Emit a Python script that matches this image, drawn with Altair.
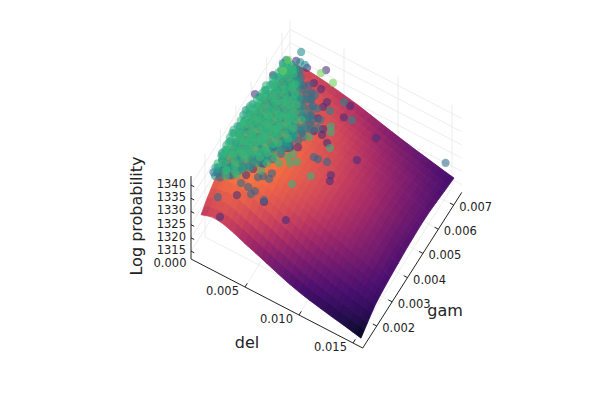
import altair as alt
import pandas as pd

# surface (del and gam in units of 0.001)
del_grid = [0.93,2,3,4,5,6,7,8,9,10,11,12,13,14,15,15.74]
gam_grid = [1.09,1.5,2,2.5,3,3.5,4,4.5,5,5.5,6,6.5,7.13]
z_rows = [
 [1330.7,1332.2,1331.6,1330.2,1328.4,1326.9,1325.2,1323.6,1322.0,1320.7,1319.6,1318.7,1317.8,1317.0,1316.1,1315.4],
 [1333.5,1335.0,1334.9,1333.4,1331.7,1330.1,1328.5,1326.8,1325.1,1323.6,1322.3,1321.2,1320.2,1319.3,1318.2,1317.3],
 [1336.0,1337.6,1337.9,1336.8,1335.2,1333.5,1331.8,1330.0,1328.1,1326.4,1324.9,1323.6,1322.4,1321.3,1320.3,1319.5],
 [1337.8,1339.2,1339.8,1338.7,1337.0,1335.4,1333.7,1332.0,1330.3,1328.7,1327.1,1325.8,1324.4,1323.2,1321.8,1320.4],
 [1338.8,1340.0,1340.5,1339.5,1338.0,1336.4,1334.8,1333.3,1331.8,1330.3,1328.9,1327.5,1326.1,1324.8,1322.6,1321.1],
 [1339.0,1340.0,1340.4,1339.4,1338.0,1336.6,1335.2,1333.8,1332.4,1330.9,1329.5,1328.1,1326.7,1325.1,1323.1,1321.6],
 [1338.6,1339.6,1339.8,1339.0,1337.7,1336.4,1335.1,1333.8,1332.5,1331.2,1329.9,1328.6,1327.1,1325.2,1323.4,1322.1],
 [1338.0,1338.9,1339.0,1338.3,1337.1,1335.9,1334.7,1333.5,1332.3,1331.1,1329.9,1328.7,1327.2,1325.6,1323.8,1322.4],
 [1337.0,1337.9,1338.0,1337.3,1336.3,1335.2,1334.1,1332.9,1331.8,1330.6,1329.4,1328.2,1326.9,1325.4,1323.8,1322.6],
 [1336.0,1336.8,1336.9,1336.3,1335.4,1334.4,1333.4,1332.3,1331.2,1330.0,1328.8,1327.6,1326.4,1325.0,1323.6,1322.5],
 [1335.0,1335.6,1335.7,1335.1,1334.3,1333.4,1332.4,1331.4,1330.3,1329.1,1327.9,1326.8,1325.6,1324.4,1323.1,1322.0],
 [1333.8,1334.3,1334.3,1333.8,1333.0,1332.2,1331.2,1330.1,1329.0,1327.9,1326.8,1325.7,1324.7,1323.6,1322.4,1321.4],
 [1332.5,1332.8,1332.4,1331.8,1331.0,1330.2,1329.3,1328.2,1327.1,1326.0,1325.0,1324.0,1323.1,1322.2,1321.3,1320.7],
]

# surface colours, by log probability
colour_z = [1315.4,1318,1321,1324,1327,1330,1333,1336,1339,1341]
colour_hex = ["#08051e","#280c50","#460f6e","#691970","#8c236c","#b23264","#d24a58","#e65f4b","#f9783a","#ff8538"]

# scatter points
purple_del = [1.82,2.89,4.31,0.84,0.42,5.79,5.73,4.8,4.04,7.57,7.64,10.8,5.87,6.17,6.71,6.9,7.61,10.44,9.3,9.49,5.77,5.25,4.97,4.03,3.39,3.64,3.61,4.08,5.83]
purple_gam = [6.64,6.6,6.84,5.83,4.95,5.86,5.65,6.17,6.24,6.11,5.66,5.53,5.21,4.75,4.96,4.76,4.59,4.54,3.65,3.45,3.99,3.83,3.77,3.59,2.29,1.52,2.59,2.9,1.74]
purple_low_del = [2.26,6.99]
purple_low_gam = [1.39,2.35]
purple_low_logp = [1330,1330]
blue_del = [7.32,7.69,8.45,5.16,5.11,3.39,4.06,4.72,4.58,5.74,2.41,1.05,1.0,4.31,4.61,
            4.6,4.3,3.8,3.4,5.0,5.3,5.6,5.4,5.5,5.2,4.9,4.5,3.9,3.2,2.7,2.2,1.7,1.3,1.0,1.6,2.0,2.4]
blue_gam = [3.94,3.94,4.0,2.54,2.76,1.96,1.95,1.93,1.78,1.8,1.15,2.37,6.36,2.42,2.53,
            5.7,5.9,6.1,6.0,5.5,5.2,4.9,4.5,4.2,3.9,3.5,3.2,2.9,2.6,2.3,2.0,1.8,1.9,1.85,2.15,2.25,2.05]
far_del = [15.1]
far_gam = [7.03]
far_logp = [1326]
dark_teal_del = [4.5,4.9,5.2,5.6,6.1,5.05,5.5,5.15,4.8,5.7,4.2,4.64,4.0,3.6,5.4,4.7,5.9,5.0,4.55,4.85,3.5,3.9,2.9,3.3,6.3,4.3,3.9,3.2,2.9,2.5]
dark_teal_gam = [5.65,5.4,5.15,5.05,5.2,4.95,4.7,4.55,4.3,4.4,5.6,5.89,5.8,5.85,5.5,5.05,4.75,4.1,3.75,3.95,3.0,3.15,2.5,2.8,4.9,5.35,5.55,5.95,6.2,6.4]
teal_del = [1.77,2.61,2.14,1.07,6.97,8.33,6.39,1.27,1.08,0.74,
 1.1,1.6,2.0,0.9,1.4,1.9,2.4,0.8,1.2,1.6,
 2.1,2.6,3.1,0.7,1.1,1.5,1.9,2.4,2.8,3.3,
 3.8,4.1,0.8,1.2,1.7,2.1,2.6,3.0,3.5,3.9,
 4.4,4.8,0.9,1.3,1.8,2.2,2.7,3.1,3.6,4.0,
 4.5,5.0,0.5,0.9,1.2,1.7,2.1,2.5,3.0,3.4,
 3.9,4.4,4.9,5.3,0.7,1.1,1.5,2.0,2.4,2.9,
 3.3,3.7,4.2,5.0,0.9,1.4,1.9,2.3,2.8,3.2,
 3.7,4.2,4.6,1.0,1.5,2.0,2.5,3.0,3.5,4.1,
 1.2,1.7,2.2,2.7,3.1,3.5,1.3,1.8,2.2,2.6,
 1.3,1.8,2.3,1.7,2.6,3.0,2.2,1.2,0.9,1.6]
teal_gam = [7.0,6.66,6.67,6.51,6.13,5.7,5.63,1.76,2.08,2.59,
 2.35,2.2,2.3,2.75,2.8,2.7,2.65,3.1,3.15,3.05,
 3.1,3.05,2.95,3.4,3.45,3.35,3.4,3.4,3.45,3.35,
 3.25,3.55,3.7,3.65,3.7,3.65,3.7,3.65,3.7,3.6,
 3.65,3.95,4.0,3.95,4.05,4.0,4.05,4.0,4.05,4.0,
 3.95,4.3,4.3,4.25,4.3,4.35,4.3,4.35,4.3,4.35,
 4.3,4.35,4.6,4.7,4.6,4.55,4.6,4.65,4.6,4.65,
 4.6,4.65,4.6,5.0,4.95,4.9,4.95,4.9,4.95,4.9,
 4.95,4.9,5.2,5.25,5.2,5.25,5.2,5.25,5.2,5.3,
 5.55,5.5,5.55,5.5,5.55,5.5,5.85,5.8,5.85,5.8,
 6.1,6.15,6.1,6.45,6.2,6.0,6.4,6.5,2.5,2.0]
mid_del = [1.13,1.57,2.28,0.97,1.83,2.66,1.42,2.07,2.83,3.02,
 0.74,1.27,1.71,2.17,2.52,3.13,3.44,0.58,1.06,1.53,2.03,2.47,2.91,3.37,3.82,4.13,
 0.63,0.88,1.36,1.77,2.24,2.64,3.09,3.56,4.02,4.43,0.54,1.02,1.48,1.93,2.37,2.86,3.27,3.73,4.18,4.62,4.94,
 0.67,1.17,1.63,2.12,2.58,3.04,3.46,3.93,4.36,4.83,0.86,1.32,1.84,2.29,2.74,3.16,3.62,4.07,4.53,
 0.93,1.26,1.72,2.14,2.61,3.07,3.48,3.96,4.34,1.08,1.53,2.04,2.47,2.93,3.36,3.71,
 0.98,1.41,1.87,2.26,2.73,3.12,1.17,1.52,1.94,2.38,2.83,1.39,1.76,2.12,
 1.22,1.74,2.36,0.93,2.85,3.28,3.61,4.03,4.37,4.74,5.02]
mid_gam = [2.47,2.33,2.61,2.68,2.52,2.43,2.94,2.79,2.71,2.88,
 3.03,3.11,2.97,3.18,2.99,3.07,3.13,3.37,3.52,3.27,3.46,3.24,3.49,3.31,3.43,3.19,
 3.67,3.93,3.72,3.97,3.63,3.86,3.74,3.98,3.71,3.89,4.11,4.23,4.06,4.29,4.13,4.02,4.26,4.09,4.31,4.07,4.21,
 4.41,4.62,4.38,4.71,4.43,4.66,4.39,4.73,4.49,4.37,4.92,4.83,4.97,4.79,4.87,4.76,4.93,4.83,4.68,
 5.23,5.12,5.36,5.07,5.31,5.14,5.41,5.18,5.09,5.48,5.58,5.46,5.61,5.47,5.63,5.52,
 5.81,5.77,5.93,5.72,5.88,5.76,6.13,6.03,6.21,6.07,6.02,6.33,6.28,6.36,
 2.07,2.19,2.28,2.03,2.41,2.57,2.81,3.02,3.36,3.61,3.83]
green_del = [7.13,7.39,8.03,6.08,7.95,6.99,5.15,5.92,6.36,5.73,5.51,4.32,3.56,3.87,4.65,4.25,0.82,1.85,2.48,2.04,2.76,
 0.9,1.3,1.8,2.2,0.8,1.2,1.6,2.1,2.5,0.7,
 1.1,1.5,1.9,2.4,2.9,0.6,1.0,1.4,1.8,2.3,
 2.7,3.2,3.6,0.5,0.9,1.3,1.7,2.1,2.6,3.0,
 3.5,3.9,0.6,1.0,1.4,1.9,2.3,2.8,3.2,3.7,
 4.2,0.7,1.1,1.6,2.0,2.5,2.9,3.4,3.8,4.3,
 4.7,0.6,1.0,1.4,1.9,2.3,2.8,3.2,3.7,4.1,
 4.6,0.8,1.2,1.7,2.1,2.6,3.0,3.5,3.9,4.4,
 4.8,0.9,1.3,1.8,2.2,2.7,3.1,3.6,4.0,0.8,
 1.2,1.6,2.0,2.5,2.9,3.3,3.8,1.0,1.4,1.9,
 2.3,2.8,3.2,1.1,1.5,2.0,2.4,1.1,1.6,2.0,
 1.0,1.5,2.0,2.5,1.2,1.7,2.2,2.7,3.2,0.9,
 1.5,2.0,2.5,3.0,3.5,1.2,1.8,2.4,2.9,3.4,
 3.9,1.0,1.6,2.2,2.7,3.3,3.8,1.1,1.7,2.3,
 2.9,3.4,1.4,2.1,2.7,1.6,2.2,1.3,1.8,2.8]
green_gam = [5.17,4.99,4.48,4.48,3.3,2.75,3.19,3.36,3.52,3.69,3.52,2.99,3.07,3.31,3.28,2.66,2.73,2.14,2.2,1.93,2.14,
 2.2,2.3,2.1,2.4,2.5,2.6,2.7,2.5,2.8,2.9,
 3.0,2.9,3.0,2.9,3.1,3.2,3.3,3.2,3.3,3.2,
 3.3,3.2,3.4,3.5,3.6,3.5,3.6,3.5,3.6,3.6,
 3.5,3.7,3.9,3.8,3.9,3.8,3.9,3.8,3.9,3.9,
 3.8,4.2,4.1,4.2,4.1,4.2,4.1,4.2,4.1,4.2,
 4.1,4.5,4.4,4.5,4.4,4.5,4.4,4.5,4.4,4.5,
 4.5,4.8,4.7,4.8,4.7,4.8,4.7,4.8,4.7,4.8,
 4.9,5.1,5.0,5.1,5.0,5.1,5.0,5.1,5.0,5.4,
 5.3,5.4,5.3,5.4,5.3,5.4,5.3,5.7,5.6,5.7,
 5.6,5.7,5.6,6.0,5.9,6.0,5.9,6.3,6.2,6.3,
 2.8,2.7,2.9,3.0,3.4,3.3,3.4,3.5,3.7,3.9,
 4.0,3.7,4.0,3.8,4.3,4.3,4.2,4.3,4.2,4.1,
 4.6,4.6,4.6,4.5,4.6,4.7,4.9,5.0,5.2,5.1,
 5.2,5.2,5.5,5.5,5.8,6.1,6.2,6.4,6.4,5.9]
light_del = [4.09,5.36,1.35,1.21]
light_gam = [6.66,6.55,6.12,6.54]
cloud_logp = 1340

level_purple, level_blue, level_dark_teal, level_teal, level_mid, level_green, level_light = 0.13, 0.33, 0.4, 0.47, 0.55, 0.66, 0.78

# axis ticks
del_ticks = [5, 10, 15]
gam_ticks = [2, 3, 4, 5, 6, 7]
z_ticks = [1315, 1320, 1325, 1330, 1335, 1340]
del_lo, del_hi = 0.0, 15.9
gam_lo, gam_hi = 1.09, 7.52
z_lo, z_hi = 1312.0, 1343.4


def px(d, g, z):
    return (191 + 10.8 * d + 15.4 * (g - 1.09),
            259 + 5.6 * d - 24.2 * (g - 1.09) - 2.64 * (z - 1312))


nx, ny = len(del_grid), len(gam_grid)
vertex = [[px(del_grid[i], gam_grid[j], z_rows[j][i]) for i in range(nx)] for j in range(ny)]


def centre(i0, i1, j0, j1):
    pts = [vertex[j][i] for i in (i0, i1) for j in (j0, j1)]
    return [sum(p[0] for p in pts) / 4 - 8, sum(p[1] for p in pts) / 4 - 8]


def polygon(ring, z):
    return {"type": "Feature", "properties": {"z": z},
            "geometry": {"type": "Polygon", "coordinates": [ring + [ring[0]]]}}


# one quad between four grid values, seen from the back of the box forward
cells = []
for j in range(ny - 2, -1, -1):
    for i in range(nx - 1):
        ring = [[vertex[b][a][0] - 8, vertex[b][a][1] - 8]
                for a, b in [(i, j), (i + 1, j), (i + 1, j + 1), (i, j + 1)]]
        z = (z_rows[j][i] + z_rows[j][i + 1] + z_rows[j + 1][i] + z_rows[j + 1][i + 1]) / 4
        cells.append(polygon(ring, z))

# a second, half-transparent mesh around each grid value softens the facets
soft = []
for j in range(ny - 1, -1, -1):
    for i in range(nx):
        il, ir = max(i - 1, 0), min(i + 1, nx - 1)
        jl, jr = max(j - 1, 0), min(j + 1, ny - 1)
        ring = [centre(il, i, jl, j), centre(i, ir, jl, j), centre(i, ir, j, jr), centre(il, i, j, jr)]
        soft.append(polygon(ring, z_rows[j][i]))

# points
rows = []
def add(ds, gs, zs, level):
    for d, g, z in zip(ds, gs, zs):
        x, y = px(d, g, z)
        rows.append({"x": x, "y": y, "level": level})

add(purple_del, purple_gam, [cloud_logp] * len(purple_del), level_purple)
add(purple_low_del, purple_low_gam, purple_low_logp, level_purple)
add(blue_del, blue_gam, [cloud_logp] * len(blue_del), level_blue)
add(far_del, far_gam, far_logp, level_blue)
add(dark_teal_del, dark_teal_gam, [cloud_logp] * len(dark_teal_del), level_dark_teal)
add(teal_del, teal_gam, [cloud_logp] * len(teal_del), level_teal)
add(mid_del, mid_gam, [cloud_logp] * len(mid_del), level_mid)
add(green_del, green_gam, [cloud_logp] * len(green_del), level_green)
add(light_del, light_gam, [cloud_logp] * len(light_del), level_light)
points = pd.DataFrame(rows)

# grid lines, axis lines, ticks
def seg(a, b):
    x, y = px(*a)
    x2, y2 = px(*b)
    return {"x": x, "y": y, "x2": x2, "y2": y2}

grid = []
for d in del_ticks:
    grid.append(seg((d, gam_lo, z_lo), (d, gam_hi, z_lo)))
    grid.append(seg((d, gam_hi, z_lo), (d, gam_hi, z_hi)))
for g in gam_ticks:
    grid.append(seg((del_lo, g, z_lo), (del_hi, g, z_lo)))
    grid.append(seg((del_lo, g, z_lo), (del_lo, g, z_hi)))
for z in z_ticks:
    grid.append(seg((del_lo, gam_lo, z), (del_lo, gam_hi, z)))
    grid.append(seg((del_lo, gam_hi, z), (del_hi, gam_hi, z)))
grid.append(seg((del_lo, gam_hi, z_lo), (del_lo, gam_hi, z_hi)))
grid_df = pd.DataFrame(grid)

ax = [seg((del_lo, gam_lo, z_lo), (del_hi, gam_lo, z_lo)),
      seg((del_hi, gam_lo, z_lo), (del_hi, gam_hi, z_lo)),
      seg((del_lo, gam_lo, z_lo), (del_lo, gam_lo, z_hi))]
for d in del_ticks:
    ax.append(seg((d, gam_lo, z_lo), (d, gam_lo + 0.15, z_lo)))
for g in gam_ticks:
    ax.append(seg((del_hi, g, z_lo), (del_hi - 0.35, g, z_lo)))
for z in z_ticks:
    ax.append(seg((del_lo, gam_lo, z), (del_lo + 0.3, gam_lo, z)))
ax_df = pd.DataFrame(ax)

# labels
labels = []
for d in del_ticks:
    x, y = px(d, gam_lo, z_lo)
    labels.append({"x": x - 22.5, "y": y + 4.5, "t": f"{d/1000:.3f}", "a": "center"})
x, y = px(0, gam_lo, z_lo)
labels.append({"x": x - 21, "y": y + 5, "t": "0.000", "a": "center"})
for g in gam_ticks:
    x, y = px(del_hi, g, z_lo)
    labels.append({"x": x + 22, "y": y + 3, "t": f"{g/1000:.3f}", "a": "center"})
for z in z_ticks:
    x, y = px(del_lo, gam_lo, z)
    labels.append({"x": x - 5, "y": y, "t": str(z), "a": "right"})
lab_df = pd.DataFrame(labels)

X = alt.X("x:Q", scale=alt.Scale(domain=[8, 592], nice=False, zero=False), axis=None)
Y = alt.Y("y:Q", scale=alt.Scale(domain=[392, 8], nice=False, zero=False), axis=None)

grid_layer = alt.Chart(grid_df).mark_rule(color="#e9e9e9", strokeWidth=0.8).encode(x=X, y=Y, x2="x2:Q", y2="y2:Q")
axis_layer = alt.Chart(ax_df).mark_rule(color="#222222", strokeWidth=1).encode(x=X, y=Y, x2="x2:Q", y2="y2:Q")

surface_scale = alt.Scale(domain=colour_z, range=colour_hex, clamp=True)
surface = alt.Chart(alt.Data(values=cells)).mark_geoshape(strokeWidth=0.7).encode(
    color=alt.Color("properties.z:Q", scale=surface_scale, legend=None),
    stroke=alt.Stroke("properties.z:Q", scale=surface_scale, legend=None),
).project(type="identity", scale=1, translate=[0, 0])
surface_soft = alt.Chart(alt.Data(values=soft)).mark_geoshape(strokeWidth=0, opacity=0.5).encode(
    color=alt.Color("properties.z:Q", scale=surface_scale, legend=None),
).project(type="identity", scale=1, translate=[0, 0])

dots = alt.Chart(points).mark_circle(size=68, opacity=0.58).encode(
    x=X, y=Y,
    color=alt.Color("level:Q", scale=alt.Scale(scheme="viridis", domain=[0, 1]), legend=None),
    order=alt.Order("level:Q"),
)

tick_text = alt.Chart(lab_df[lab_df.a == "center"]).mark_text(font="DejaVu Sans", fontSize=11.5, color="#222222", align="center", baseline="middle").encode(x=X, y=Y, text="t:N")
z_text = alt.Chart(lab_df[lab_df.a == "right"]).mark_text(font="DejaVu Sans", fontSize=11.5, color="#222222", align="right", baseline="middle").encode(x=X, y=Y, text="t:N")

title_df = pd.DataFrame({"x": [247, 445, 137], "y": [343, 311, 216], "t": ["del", "gam", "Log probability"], "angle": [0, 0, 270]})
titles = alt.layer(
    *[alt.Chart(title_df.iloc[[i]]).mark_text(font="DejaVu Sans", fontSize=16, color="#222222", align="center", baseline="middle", angle=int(title_df.angle[i])).encode(x=X, y=Y, text="t:N") for i in range(3)]
)

chart = alt.layer(grid_layer, surface, surface_soft, dots, axis_layer, tick_text, z_text, titles).resolve_scale(
    color="independent", stroke="independent"
).properties(width=584, height=384, padding=0, background="white").configure_view(stroke=None)

chart.save("out.html", embed_options={"renderer": "svg", "actions": False})
